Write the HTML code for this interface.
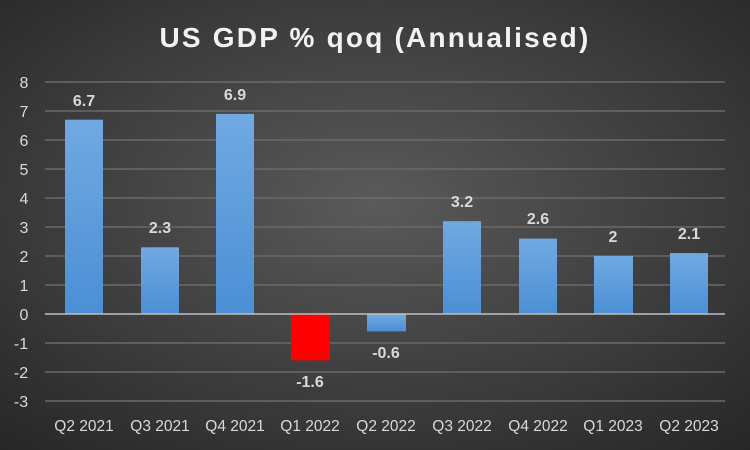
<!DOCTYPE html>
<html><head><meta charset="utf-8"><style>
html,body{margin:0;padding:0;background:#333;}
svg{display:block;}
text{font-family:"Liberation Sans","DejaVu Sans",sans-serif;}
</style></head><body>
<svg width="750" height="450" viewBox="0 0 750 450" xmlns="http://www.w3.org/2000/svg">
<defs>
<radialGradient id="bg" cx="50%" cy="45%" r="75%">
<stop offset="0" stop-color="#5a5a5a"/>
<stop offset="1" stop-color="#262626"/>
</radialGradient>
<linearGradient id="bar" x1="0" y1="0" x2="0" y2="1">
<stop offset="0" stop-color="#71a9e2"/>
<stop offset="1" stop-color="#4b8fd5"/>
</linearGradient>
</defs>
<rect width="750" height="450" fill="url(#bg)"/>
<text x="375" y="47" text-anchor="middle" fill="#f2f2f2" font-size="28" font-weight="bold" letter-spacing="2.2">US GDP % qoq (Annualised)</text>
<g stroke="#6a6a6a" stroke-width="1.5">
<line x1="45" x2="725" y1="82" y2="82"/><line x1="45" x2="725" y1="111" y2="111"/>
<line x1="45" x2="725" y1="140" y2="140"/><line x1="45" x2="725" y1="169" y2="169"/>
<line x1="45" x2="725" y1="198" y2="198"/><line x1="45" x2="725" y1="227" y2="227"/>
<line x1="45" x2="725" y1="256" y2="256"/><line x1="45" x2="725" y1="285" y2="285"/>
<line x1="45" x2="725" y1="343" y2="343"/><line x1="45" x2="725" y1="372" y2="372"/>
<line x1="45" x2="725" y1="401" y2="401"/>
</g>
<g fill="#d9d9d9" font-size="16" text-anchor="middle">
<text x="24" y="88">8</text><text x="24" y="117">7</text><text x="24" y="146">6</text>
<text x="24" y="175">5</text><text x="24" y="204">4</text><text x="24" y="233">3</text>
<text x="24" y="262">2</text><text x="24" y="291">1</text><text x="24" y="320">0</text>
<text x="21" y="349">-1</text><text x="21" y="378">-2</text><text x="21" y="407">-3</text>
</g>
<g fill="url(#bar)">
<rect x="65" y="119.7" width="38" height="194.3"/>
<rect x="141" y="247.3" width="38" height="66.7"/>
<rect x="216" y="113.9" width="38" height="200.1"/>
<rect x="367" y="314" width="39" height="17.4"/>
<rect x="443" y="221.2" width="38" height="92.8"/>
<rect x="519" y="238.6" width="38" height="75.4"/>
<rect x="594" y="256" width="39" height="58"/>
<rect x="670" y="253.1" width="38" height="60.9"/>
</g>
<rect x="291" y="314" width="39" height="46.4" fill="#ff0000"/>
<line x1="45" x2="725" y1="314" y2="314" stroke="#bfbfbf" stroke-width="1.5"/>
<g fill="#d9d9d9" font-size="16" font-weight="bold" text-anchor="middle">
<text x="84" y="106">6.7</text><text x="160" y="233">2.3</text><text x="235" y="100">6.9</text>
<text x="310" y="387">-1.6</text><text x="386" y="358">-0.6</text><text x="462" y="207">3.2</text>
<text x="538" y="224">2.6</text><text x="613" y="242">2</text><text x="689" y="239">2.1</text>
</g>
<g fill="#d9d9d9" font-size="15.5" text-anchor="middle">
<text x="84" y="431">Q2 2021</text><text x="160" y="431">Q3 2021</text><text x="235" y="431">Q4 2021</text>
<text x="310" y="431">Q1 2022</text><text x="386" y="431">Q2 2022</text><text x="462" y="431">Q3 2022</text>
<text x="538" y="431">Q4 2022</text><text x="613" y="431">Q1 2023</text><text x="689" y="431">Q2 2023</text>
</g>
</svg>
</body></html>
